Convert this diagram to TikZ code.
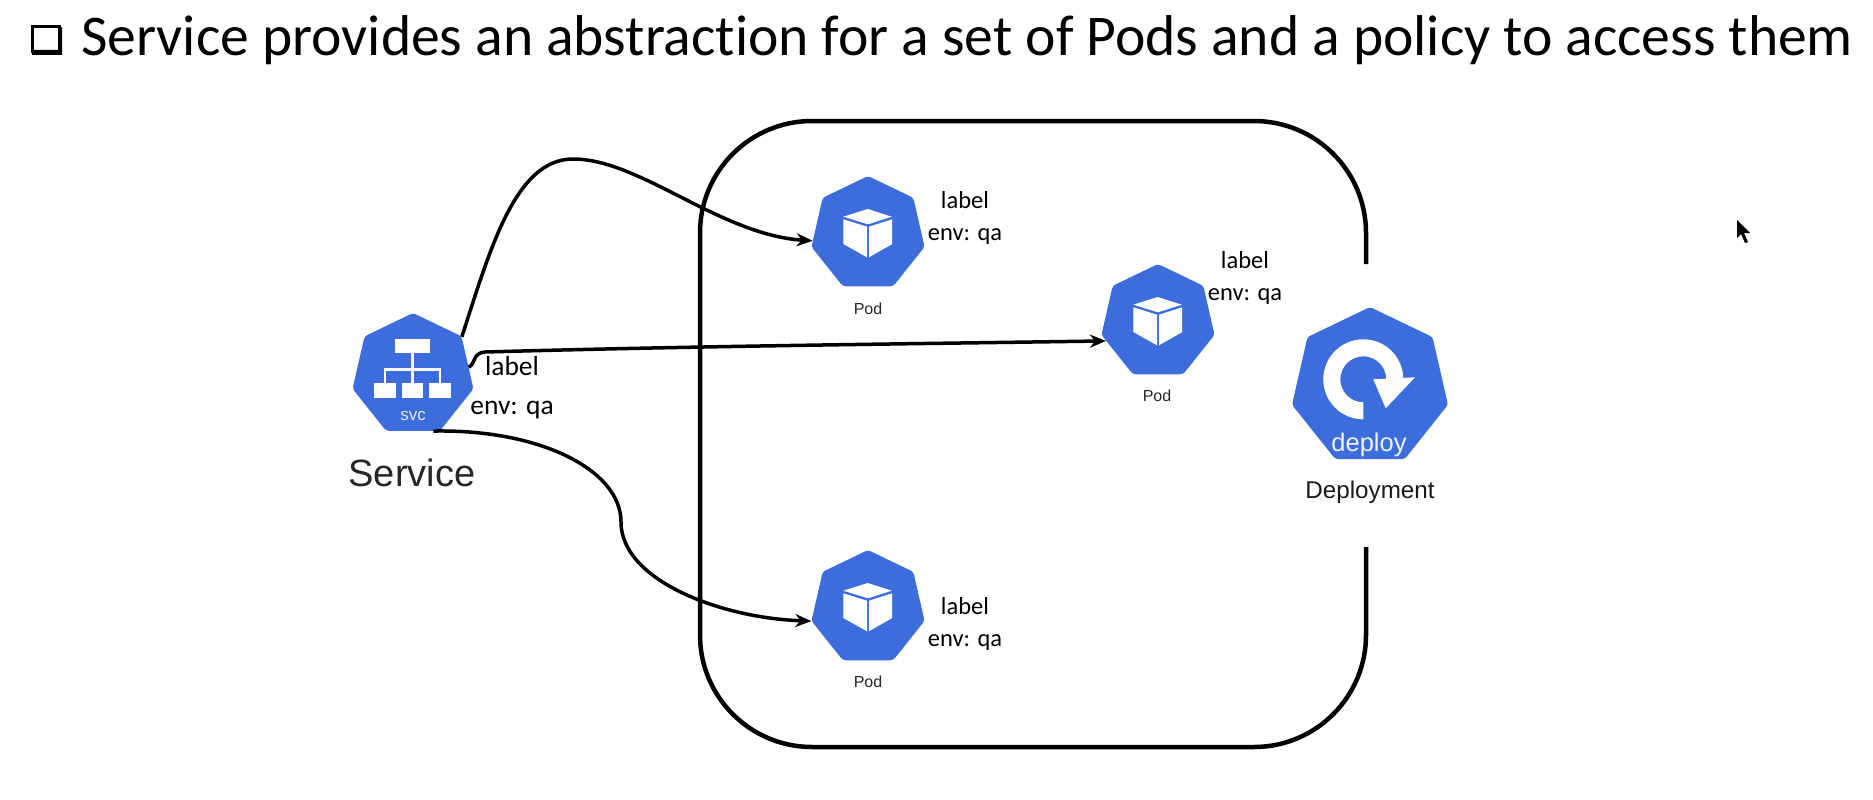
\documentclass[tikz,border=0pt]{standalone}
\usepackage{fontspec}
\setmainfont[Ligatures=NoCommon]{Carlito}
\newfontfamily\arialfont{Liberation Sans}
\usetikzlibrary{shapes.geometric,arrows.meta}
\definecolor{kube}{HTML}{3D6CDD}
\tikzset{
  x=1pt,y=-1pt,
  kubeshape/.style={regular polygon,regular polygon sides=7,fill=kube,draw=none,inner sep=0pt,rounded corners=3pt},
  podshape/.style={kubeshape,minimum size=116pt},
  svcshape/.style={kubeshape,minimum size=124pt},
  depshape/.style={kubeshape,minimum size=160pt},
  labeltext/.style={align=center,inner sep=0pt,font=\fontsize{24.5}{32}\selectfont},
  svclabel/.style={align=center,inner sep=0pt,font=\fontsize{27.5}{39}\selectfont},
  captiontext/.style={inner sep=0pt,font=\arialfont\fontsize{16}{18}\selectfont,text=black!85},
  link/.style={line width=3.5pt,draw=black,-{Stealth[length=16pt,width=13pt,inset=5pt]}},
  frame/.style={line width=4.5pt,draw=black},
  cube/.pic={
    \fill[white] (-24.7,-17.3) -- (-0.3,-25) -- (23.7,-17.3) -- (0,-9.7) -- cycle;
    \fill[white] (-24.7,-14.7) -- (-1,-7.3) -- (-1,23.3) -- (-24.7,10) -- cycle;
    \fill[white] (24.2,-14.7) -- (1,-7.3) -- (1,23.3) -- (24.2,10) -- cycle;
  },
}
\begin{document}
\begin{tikzpicture}
\useasboundingbox (0,0) rectangle (1873,800);
% title
\draw[line width=3pt] (32,27) rectangle (59,52);
\fill (32,50) -- (60,50) -- (60,26) -- (62,28) -- (62,55) -- (32,55) -- cycle;
\node[anchor=base west,inner sep=0pt,font=\fontsize{57.6}{64}\selectfont] (title) at (81,56) {Service provides an abstraction for a set of Pods and a policy to access them};
% deployment frame
\draw[frame,rounded corners=112pt] (1366,264) -- (1366,121) -- (700,121) -- (700,747) -- (1366,747) -- (1366,547);
% icons
\node[svcshape] (svc) at (413,375) {};
\node[podshape] (pod1) at (868,234) {};
\node[podshape] (pod2) at (1158,322) {};
\node[podshape] (pod3) at (868,608) {};
\node[depshape] (dep) at (1370,387) {};
\pic at (pod1) {cube};
\pic at (pod2) {cube};
\pic at (pod3) {cube};
% svc glyph
\begin{scope}[shift={(413,375)}]
  \fill[white] (-18,-36) rectangle (17,-22);
  \fill[white] (-39,8) rectangle (-17,23);
  \fill[white] (-11,8) rectangle (10,23);
  \fill[white] (16,8) rectangle (38,23);
  \draw[white,line width=2.8pt] (-0.7,-22) -- (-0.7,8);
  \draw[white,line width=2.8pt] (-28,8) -- (-28,-5.7) -- (27,-5.7) -- (27,8);
  \node[inner sep=0pt,text=white!85!kube,font=\arialfont\fontsize{17}{17}\selectfont] (svctext) at (0,41) {svc};
\end{scope}
% deploy glyph
\begin{scope}[shift={(1370,387)}]
  \fill[white] (-6.7,32.3) arc[start angle=270,end angle=0,radius=40pt] -- (16.3,-7.7) arc[start angle=0,end angle=270,radius=23pt] -- cycle;
  \fill[white] (3.3,-7.7) -- (45,-9.7) -- (15.7,21.3) -- cycle;
  \node[inner sep=0pt,text=white!92!kube,font=\arialfont\fontsize{25.5}{26}\selectfont] (deptext) at (-1,58) {deploy};
\end{scope}
% captions
\node[captiontext] (cap1) at (868,309) {Pod};
\node[captiontext] (cap2) at (1157,396) {Pod};
\node[captiontext] (cap3) at (868,682) {Pod};
\node[inner sep=0pt,font=\arialfont\fontsize{38}{40}\selectfont,text=black!85] (svccap) at (412,473) {Service};
\node[inner sep=0pt,font=\arialfont\fontsize{24.2}{26}\selectfont,text=black!90] (depcap) at (1370,492) {Deployment};
% labels
\node[labeltext] (l1) at (965,218) {label\\env: qa};
\node[labeltext] (l2) at (1245,278) {label\\env: qa};
\node[labeltext] (l3) at (965,624) {label\\env: qa};
\node[svclabel] (l0) at (512,388) {label\\env: qa};
% connectors
\draw[link] (svc.38) .. controls (490,250) and (515,159) .. (573,159) .. controls (640,159) and (720,235) .. (pod1.187);
\draw[link] (svc.8) .. controls (476,364) and (472,353) .. (485,352) .. controls (700,346) and (900,344) .. (pod2.200);
\draw[link] (svc.-70) .. controls (540,429) and (621,470) .. (621,522) .. controls (621,580) and (720,618) .. (pod3.193);
% cursor
\fill[black] (1737,220) -- (1737,238) -- (1741,234) -- (1745,243) -- (1748,242) -- (1744,233) -- (1750,233) -- cycle;
\end{tikzpicture}
\end{document}
